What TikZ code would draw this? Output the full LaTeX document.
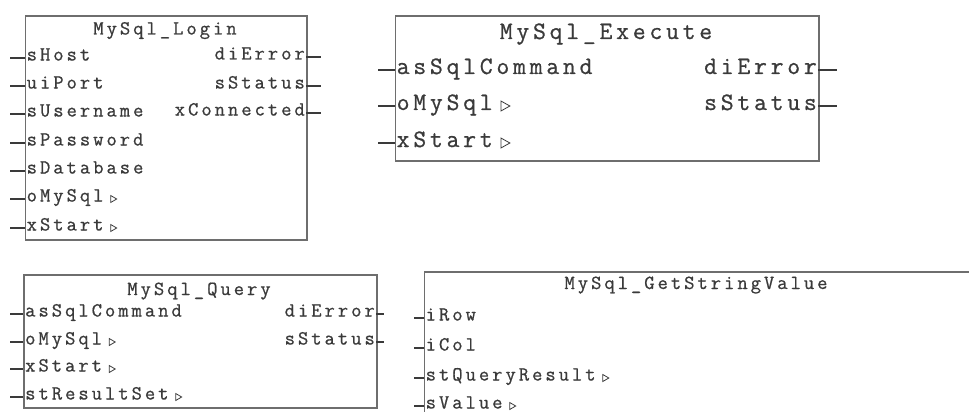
\documentclass[tikz,border=0pt]{standalone}
\usepackage{fontspec}
\usepackage{tikz}
\newfontfamily\plcfont[LetterSpace=15, FakeBold=0.8]{Latin Modern Mono}
\definecolor{framegray}{HTML}{6E6E6E}
\definecolor{pingray}{HTML}{3A3A3A}

\begin{document}
\begin{tikzpicture}[x=1pt, y=-1pt,
  fb/.style={draw=framegray, line width=1.8pt, anchor=north west, inner sep=0pt},
  title/.style={anchor=base, inner sep=0pt, text=pingray},
  pinl/.style={anchor=west, inner xsep=2pt, inner ysep=0pt, text=pingray, text height=10pt, text depth=5pt},
  pinr/.style={pinl, anchor=east, inner xsep=1pt},
  stub/.style={draw=pingray, line width=1.3pt},
  tri/.style={draw=pingray, line width=0.8pt, line join=miter},
  sm/.style={font=\plcfont\fontsize{20pt}{24pt}\selectfont},
  lg/.style={font=\plcfont\fontsize{25pt}{30pt}\selectfont,
    pinl/.append style={text height=13pt, text depth=5pt}}
]
\clip (0,0) rectangle (969,412);

% login block
\begin{scope}[sm]
\node[fb, minimum width=281.5pt, minimum height=224pt] (login) at (24.5,15) {};
\node[title] (login-title) at (165,34.5) {MySql\_Login};
\foreach \p/\y in {sHost/58, uiPort/86, sUsername/114, sPassword/143,
                   sDatabase/171, oMySql/199, xStart/228} {
  \node[pinl] (login-\p) at (24.5,\y) {\p};
  \coordinate (login-\p-in) at (10,\y);
  \draw[stub] (login-\p-in) -- (login-\p.west);
}
\foreach \p/\y in {diError/57, sStatus/86, xConnected/113} {
  \node[pinr] (login-\p) at (306,\y) {\p};
  \coordinate (login-\p-out) at (321,\y);
  \draw[stub] (login-\p.east) -- (login-\p-out);
}
\foreach \p in {oMySql, xStart}
  \draw[tri] ([shift={(5pt,3.5pt)}]login-\p.east) -- ++(0,7) -- ++(6,-3.5) -- cycle;
\end{scope}

% execute block
\begin{scope}[lg]
\node[fb, minimum width=423.5pt, minimum height=145pt] (exec) at (394.5,15) {};
\node[title] (exec-title) at (606,39) {MySql\_Execute};
\foreach \p/\y in {asSqlCommand/70, oMySql/106, xStart/143} {
  \node[pinl] (exec-\p) at (394.5,\y) {\p};
  \coordinate (exec-\p-in) at (378,\y);
  \draw[stub] (exec-\p-in) -- (exec-\p.west);
}
\foreach \p/\y in {diError/70, sStatus/106} {
  \node[pinr] (exec-\p) at (818,\y) {\p};
  \coordinate (exec-\p-out) at (837,\y);
  \draw[stub] (exec-\p.east) -- (exec-\p-out);
}
\foreach \p in {oMySql, xStart}
  \draw[tri] ([shift={(6pt,5pt)}]exec-\p.east) -- ++(0,10) -- ++(9,-5) -- cycle;
\end{scope}

% query block
\begin{scope}[sm]
\node[fb, minimum width=353pt, minimum height=133pt] (query) at (23,274) {};
\node[title] (query-title) at (199,295) {MySql\_Query};
\foreach \p/\y in {asSqlCommand/314, oMySql/342, xStart/369, stResultSet/397} {
  \node[pinl] (query-\p) at (23,\y) {\p};
  \coordinate (query-\p-in) at (10,\y);
  \draw[stub] (query-\p-in) -- (query-\p.west);
}
\foreach \p/\y in {diError/314, sStatus/342} {
  \node[pinr] (query-\p) at (376,\y) {\p};
  \coordinate (query-\p-out) at (384,\y);
  \draw[stub] (query-\p.east) -- (query-\p-out);
}
\foreach \p in {oMySql, xStart, stResultSet}
  \draw[tri] ([shift={(5pt,3.5pt)}]query-\p.east) -- ++(0,7) -- ++(6,-3.5) -- cycle;
\end{scope}

% get string value block
\begin{scope}[sm]
\node[fb, minimum width=552pt, minimum height=160pt] (getval) at (423.5,271) {};
\node[title] (getval-title) at (696,289) {MySql\_GetStringValue};
\foreach \p/\y in {iRow/318, iCol/348, stQueryResult/378, sValue/406} {
  \node[pinl] (getval-\p) at (423.5,\y) {\p};
  \coordinate (getval-\p-in) at (414,\y);
  \draw[stub] (getval-\p-in) -- (getval-\p.west);
}
\foreach \p in {stQueryResult, sValue}
  \draw[tri] ([shift={(5pt,3.5pt)}]getval-\p.east) -- ++(0,7) -- ++(6,-3.5) -- cycle;
\end{scope}
\end{tikzpicture}
\end{document}
